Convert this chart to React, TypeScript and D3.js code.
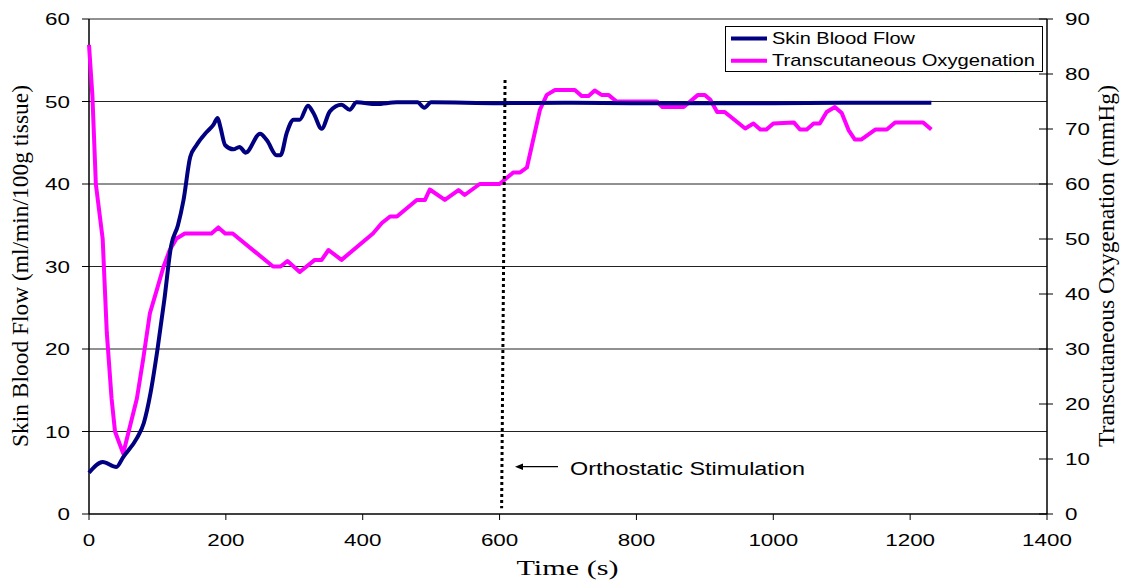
import React from "react";
import * as d3 from "d3";

const bloodT = [0, 20, 40, 50, 70, 80, 90, 100, 110, 120, 130, 138, 148, 157, 172, 182, 188, 192, 199, 211, 220, 229, 250, 260, 274, 280, 289, 299, 308, 320, 328, 340, 352, 369, 381, 391, 420, 450, 480, 490, 500, 600, 700, 800, 900, 1000, 1100, 1231];
const bloodV = [5.0, 6.3, 5.7, 6.9, 9.2, 11, 14.7, 19.9, 25.9, 32.5, 35, 38, 43.3, 44.7, 46.3, 47.2, 48, 46.9, 44.7, 44.2, 44.5, 43.8, 46.1, 45.3, 43.5, 43.5, 46.2, 47.8, 47.8, 49.5, 48.6, 46.7, 48.8, 49.6, 49, 49.9, 49.7, 49.9, 49.9, 49.25, 49.9, 49.8, 49.85, 49.8, 49.8, 49.8, 49.85, 49.85];

const oxyT = [0, 5, 10, 20, 26, 33, 38, 50, 60, 70, 79, 89, 99, 109, 118, 128, 140, 179, 189, 199, 210, 269, 280, 290, 308, 330, 340, 350, 369, 415, 428, 440, 450, 479, 491, 498, 520, 540, 549, 571, 600, 620, 630, 640, 659, 669, 681, 710, 720, 730, 739, 749, 759, 771, 830, 838, 869, 890, 900, 908, 918, 929, 959, 971, 981, 990, 1000, 1030, 1039, 1049, 1059, 1068, 1078, 1090, 1100, 1110, 1119, 1129, 1149, 1166, 1178, 1219, 1231];
const oxyV = [85.3, 76, 60, 50, 33, 21, 15, 11, 16, 21, 28, 36.5, 40.7, 45, 48, 50.1, 51, 51, 52.1, 51, 51, 45, 45, 46, 44, 46.2, 46.2, 48, 46.2, 51, 52.9, 54.1, 54.1, 57.1, 57.1, 59, 57.1, 58.9, 58, 60, 60, 62.1, 62.1, 63, 73.5, 76.2, 77.1, 77.1, 76, 76, 77, 76.2, 76.2, 75, 75, 74, 74, 76.2, 76.2, 75.3, 73.1, 73.1, 70.1, 71, 69.9, 69.9, 71, 71.2, 69.9, 69.9, 71, 71, 73.1, 74, 72.9, 69.8, 68.1, 68.1, 69.9, 69.9, 71.2, 71.2, 69.9];

const markerT = [608, 603];
const markerV = [52.6, 0.7];

const xTicks = [0, 200, 400, 600, 800, 1000, 1200, 1400];
const leftTicks = [0, 10, 20, 30, 40, 50, 60];
const rightTicks = [0, 10, 20, 30, 40, 50, 60, 70, 80, 90];

const seriesNames = ["Skin Blood Flow", "Transcutaneous Oxygenation"];
const seriesColors = ["#000080", "#FF00FF"];

const SANS = "'Liberation Sans', Arial, sans-serif";
const SERIF = "'Liberation Serif', 'Times New Roman', serif";

export default function App() {
  const x = d3.scaleLinear().domain([0, 1400]).range([89, 1047]);
  const yL = d3.scaleLinear().domain([0, 60]).range([514, 19]);
  const yR = d3.scaleLinear().domain([0, 90]).range([514, 19]);

  const blood = bloodT.map((t, i) => [t, bloodV[i]] as [number, number]);
  const oxy = oxyT.map((t, i) => [t, oxyV[i]] as [number, number]);
  const marker = markerT.map((t, i) => [t, markerV[i]] as [number, number]);

  const bloodLine = d3
    .line<[number, number]>()
    .x((d) => x(d[0]))
    .y((d) => yL(d[1]))
    .curve(d3.curveMonotoneX);
  const oxyLine = d3
    .line<[number, number]>()
    .x((d) => x(d[0]))
    .y((d) => yR(d[1]));
  const markerLine = d3
    .line<[number, number]>()
    .x((d) => x(d[0]))
    .y((d) => yL(d[1]));

  const [x0, x1] = x.range();
  const y0 = yL(0);

  return (
    <svg width={1125} height={585} style={{ display: "block", position: "absolute", left: 0, top: 0 }}>
      <rect x={0} y={0} width={1125} height={585} fill="#fff" />
      {leftTicks.filter((v) => v > 0).map((v) => (
        <line key={"g" + v} x1={x0} x2={x1} y1={yL(v)} y2={yL(v)} stroke="#222" strokeWidth={1} />
      ))}
      <line x1={x0} x2={x0} y1={yL(60)} y2={y0} stroke="#000" strokeWidth={1.5} />
      {leftTicks.map((v) => (
        <g key={"l" + v}>
          <line x1={x0 - 7} x2={x0} y1={yL(v)} y2={yL(v)} stroke="#000" strokeWidth={1} />
          <text transform={`translate(70,${yL(v) + 6}) scale(1.4,1)`} textAnchor="end" fontFamily={SANS} fontSize={16} fill="#000">
            {v}
          </text>
        </g>
      ))}
      <line x1={x1} x2={x1} y1={yR(90)} y2={y0} stroke="#000" strokeWidth={1.5} />
      {rightTicks.map((v) => (
        <g key={"r" + v}>
          <line x1={x1 - 8} x2={x1 + 6} y1={yR(v)} y2={yR(v)} stroke="#000" strokeWidth={1} />
          <text transform={`translate(1065,${yR(v) + 6}) scale(1.4,1)`} textAnchor="start" fontFamily={SANS} fontSize={16} fill="#000">
            {v}
          </text>
        </g>
      ))}
      <line x1={x0} x2={x1} y1={y0} y2={y0} stroke="#000" strokeWidth={1.5} />
      {xTicks.map((v) => (
        <g key={"x" + v}>
          <line x1={x(v)} x2={x(v)} y1={y0} y2={y0 + 6} stroke="#000" strokeWidth={1} />
          <text transform={`translate(${x(v)},546) scale(1.4,1)`} textAnchor="middle" fontFamily={SANS} fontSize={16} fill="#000">
            {v}
          </text>
        </g>
      ))}
      <path d={oxyLine(oxy) || ""} fill="none" stroke={seriesColors[1]} strokeWidth={4} strokeLinejoin="round" />
      <path d={bloodLine(blood) || ""} fill="none" stroke={seriesColors[0]} strokeWidth={4} strokeLinejoin="round" />
      <path d={markerLine(marker) || ""} fill="none" stroke="#000" strokeWidth={3} strokeDasharray="3,3" />
      <line x1={520} x2={558} y1={466.7} y2={466.7} stroke="#000" strokeWidth={1.2} />
      <path d="M515,466.7 L523,463.5 L523,469.9 Z" fill="#000" />
      <text x={570} y={475} fontFamily={SANS} fontSize={18} textLength={235} lengthAdjust="spacingAndGlyphs" fill="#000">
        Orthostatic Stimulation
      </text>
      <rect x={725.5} y={26.5} width={317} height={45} fill="#fff" stroke="#000" strokeWidth={1} />
      {seriesNames.map((n, i) => (
        <g key={n}>
          <line x1={731} x2={767} y1={38.5 + i * 22.3} y2={38.5 + i * 22.3} stroke={seriesColors[i]} strokeWidth={4} />
          <text x={772} y={44 + i * 22.3} fontFamily={SANS} fontSize={17} textLength={i === 0 ? 143 : 263} lengthAdjust="spacingAndGlyphs" fill="#000">
            {n}
          </text>
        </g>
      ))}
      <text transform="translate(28,266) rotate(-90)" textAnchor="middle" fontFamily={SERIF} fontSize={23} textLength={362} lengthAdjust="spacingAndGlyphs" fill="#000">
        Skin Blood Flow (ml/min/100g tissue)
      </text>
      <text transform="translate(1114,266) rotate(-90)" textAnchor="middle" fontFamily={SERIF} fontSize={23} textLength={362} lengthAdjust="spacingAndGlyphs" fill="#000">
        Transcutaneous Oxygenation (mmHg)
      </text>
      <text x={567.5} y={575} textAnchor="middle" fontFamily={SERIF} fontSize={22} textLength={102} lengthAdjust="spacingAndGlyphs" fill="#000">
        Time (s)
      </text>
    </svg>
  );
}
